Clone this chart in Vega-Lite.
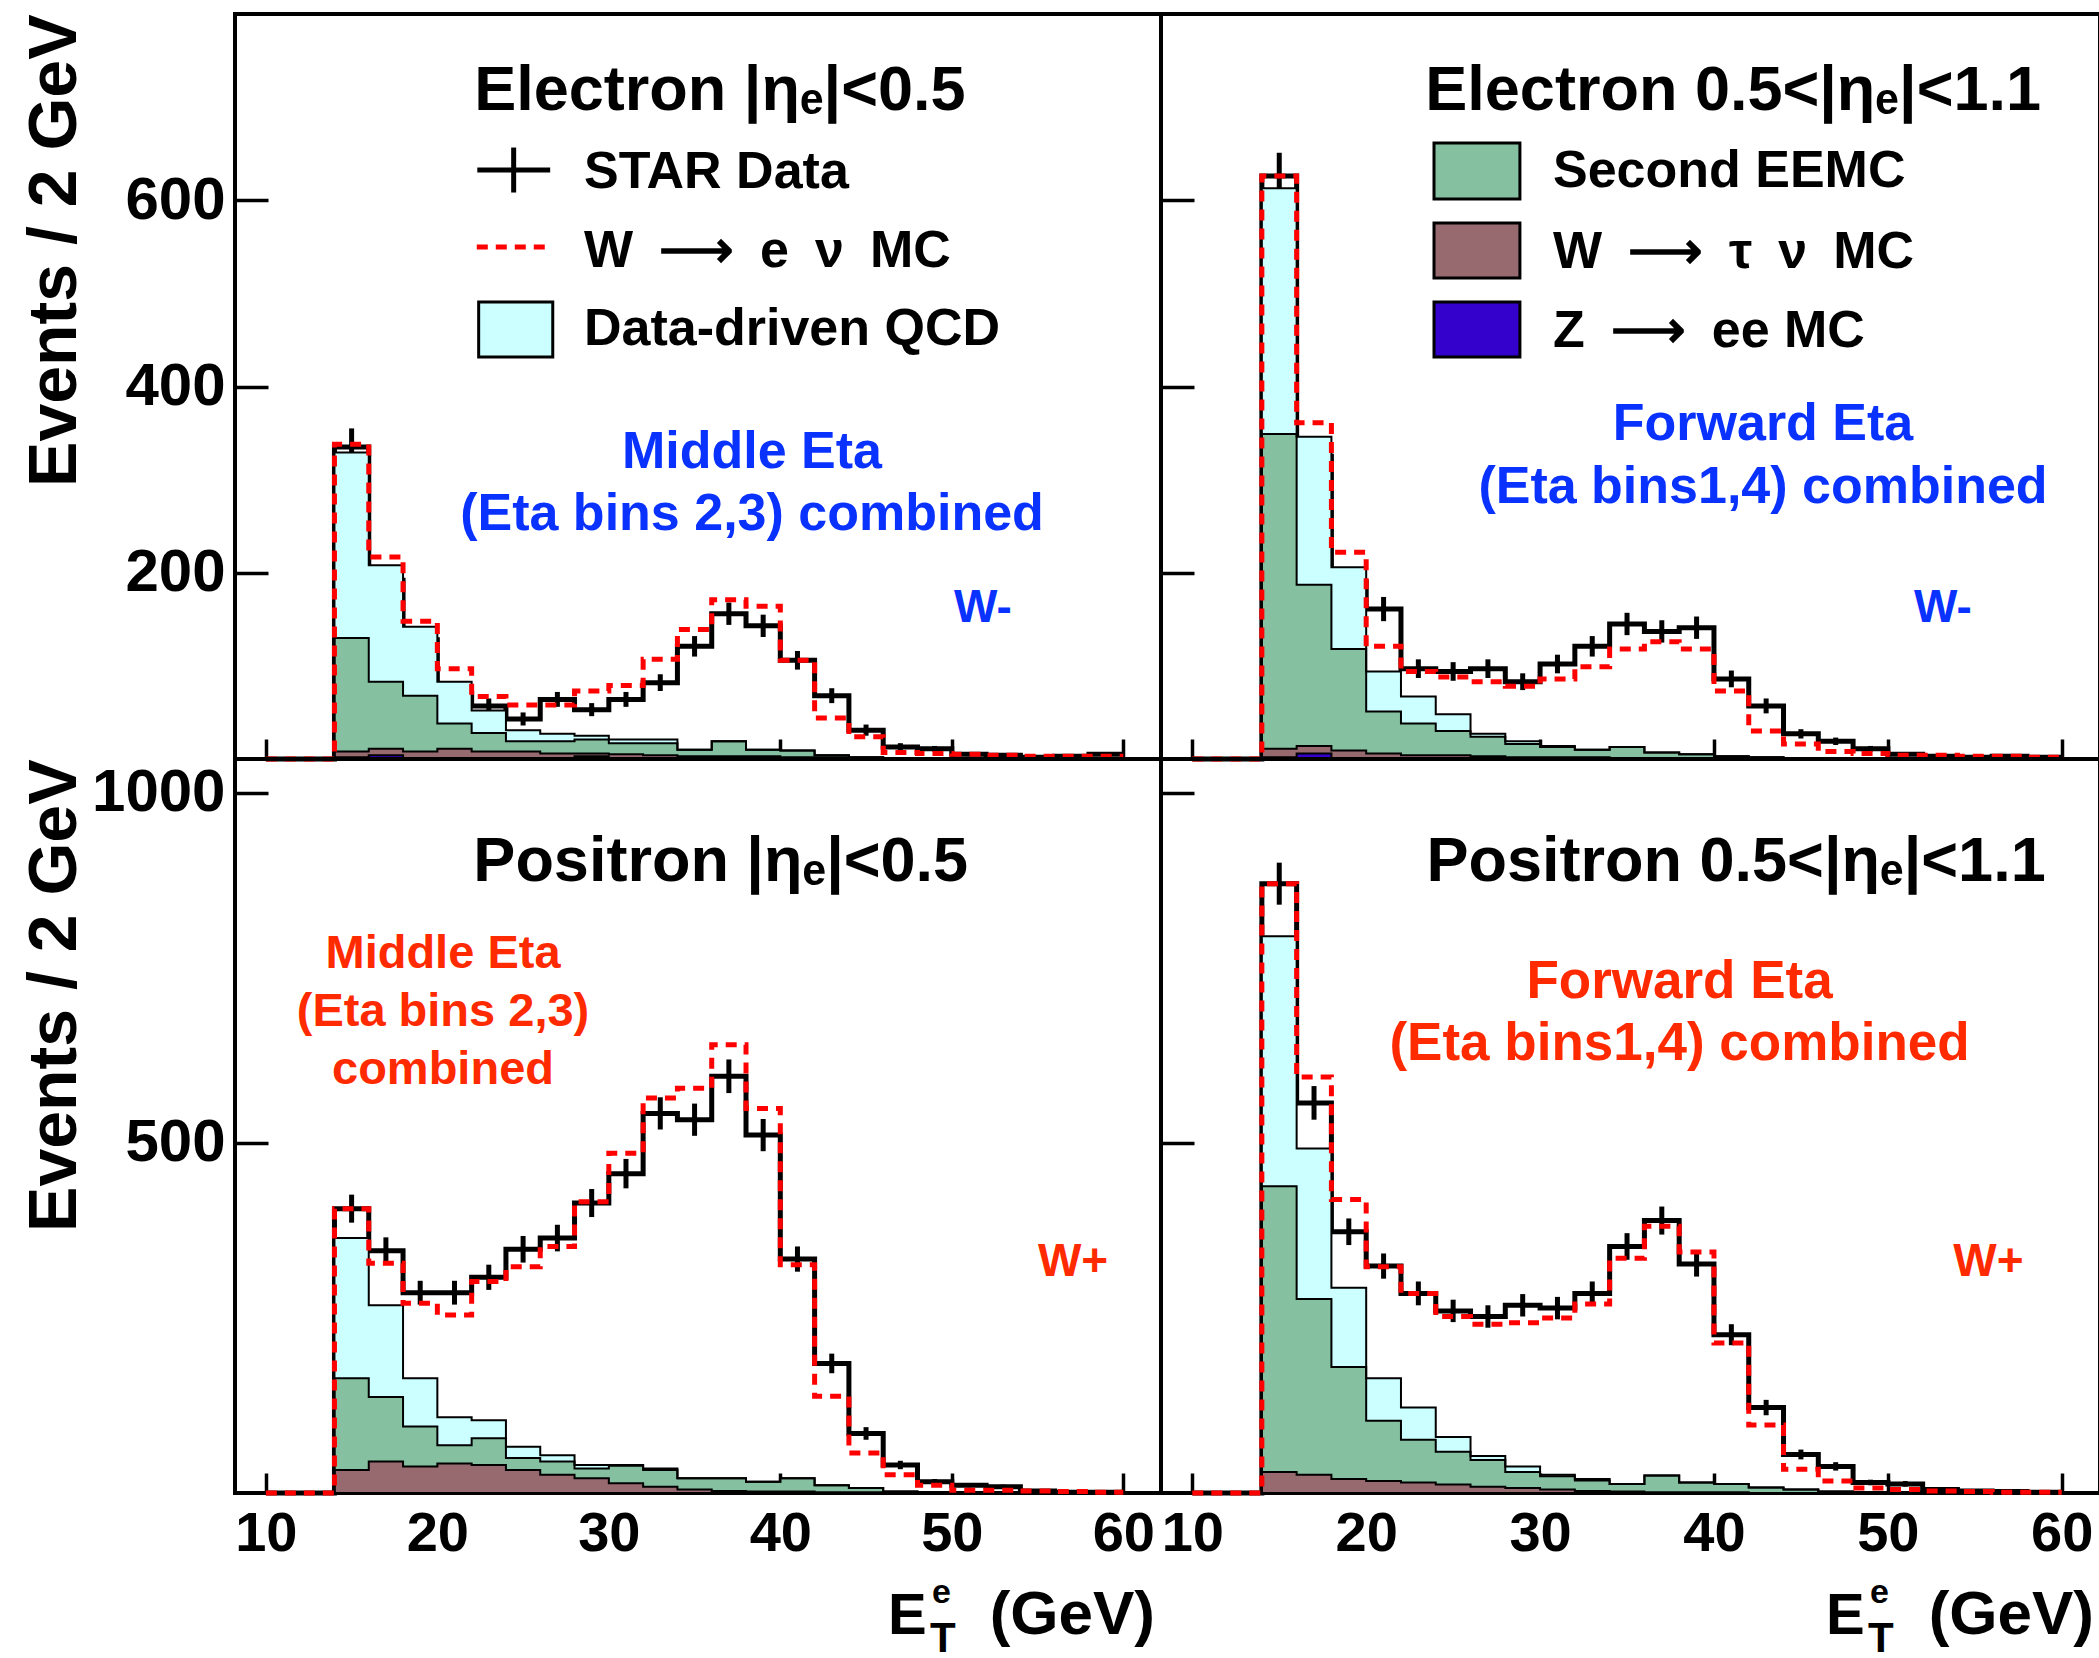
{
  "$schema": "https://vega.github.io/schema/vega-lite/v6.json",
  "padding": {"left": 18, "top": 12, "right": 2, "bottom": 0},
  "background": "white",
  "config": {
    "font": "Liberation Sans",
    "view": {"stroke": "black", "strokeWidth": 4},
    "axis": {"domain": false, "grid": false, "tickColor": "black", "tickWidth": 3.5, "labelFont": "Liberation Sans", "labelFontWeight": "bold", "labelColor": "black", "labelFlush": false, "labelOverlap": false, "titleFont": "Liberation Sans", "titleFontWeight": "bold", "titleColor": "black", "format": "d"},
    "axisX": {"tickSize": -20, "labelPadding": 33, "labelFontSize": 56},
    "axisY": {"tickSize": -33, "labelPadding": 43, "labelFontSize": 60, "titleFontSize": 68, "titleAnchor": "end", "titleX": -146},
    "text": {"font": "Liberation Sans", "fontWeight": "bold"}
  },
  "datasets": {
    "bins": [
      {"p":"TL","lo":10,"hi":12,"data":0,"err":0,"mc":0,"qcd":0,"second":0,"tau":0,"zee":0},
      {"p":"TL","lo":12,"hi":14,"data":0,"err":0,"mc":0,"qcd":0,"second":0,"tau":0,"zee":0},
      {"p":"TL","lo":14,"hi":16,"data":335,"err":20,"mc":338,"qcd":199,"second":122,"tau":6,"zee":2},
      {"p":"TL","lo":16,"hi":18,"data":192,"err":14,"mc":217,"qcd":125,"second":72,"tau":7,"zee":4},
      {"p":"TL","lo":18,"hi":20,"data":128,"err":11,"mc":148,"qcd":74,"second":60,"tau":7,"zee":1},
      {"p":"TL","lo":20,"hi":22,"data":71,"err":8,"mc":97,"qcd":45,"second":27,"tau":10,"zee":1},
      {"p":"TL","lo":22,"hi":24,"data":57,"err":8,"mc":67,"qcd":24,"second":20,"tau":7,"zee":1},
      {"p":"TL","lo":24,"hi":26,"data":43,"err":7,"mc":58,"qcd":12,"second":11,"tau":7,"zee":1},
      {"p":"TL","lo":26,"hi":28,"data":64,"err":8,"mc":58,"qcd":8,"second":13,"tau":6,"zee":0},
      {"p":"TL","lo":28,"hi":30,"data":53,"err":7,"mc":73,"qcd":4,"second":15,"tau":3,"zee":3},
      {"p":"TL","lo":30,"hi":32,"data":64,"err":8,"mc":79,"qcd":4,"second":12,"tau":5,"zee":0},
      {"p":"TL","lo":32,"hi":34,"data":82,"err":9,"mc":107,"qcd":4,"second":13,"tau":4,"zee":0},
      {"p":"TL","lo":34,"hi":36,"data":121,"err":11,"mc":139,"qcd":0,"second":7,"tau":3,"zee":0},
      {"p":"TL","lo":36,"hi":38,"data":156,"err":12,"mc":171,"qcd":0,"second":16,"tau":3,"zee":0},
      {"p":"TL","lo":38,"hi":40,"data":143,"err":12,"mc":164,"qcd":0,"second":7,"tau":3,"zee":0},
      {"p":"TL","lo":40,"hi":42,"data":106,"err":10,"mc":106,"qcd":0,"second":7,"tau":2,"zee":0},
      {"p":"TL","lo":42,"hi":44,"data":68,"err":8,"mc":44,"qcd":0,"second":2,"tau":2,"zee":0},
      {"p":"TL","lo":44,"hi":46,"data":31,"err":6,"mc":24,"qcd":0,"second":1,"tau":1,"zee":0},
      {"p":"TL","lo":46,"hi":48,"data":13,"err":4,"mc":7,"qcd":0,"second":1,"tau":0,"zee":0},
      {"p":"TL","lo":48,"hi":50,"data":11,"err":3,"mc":6,"qcd":0,"second":0,"tau":0,"zee":0},
      {"p":"TL","lo":50,"hi":52,"data":5,"err":2,"mc":5,"qcd":0,"second":0,"tau":0,"zee":0},
      {"p":"TL","lo":52,"hi":54,"data":4,"err":2,"mc":4,"qcd":0,"second":0,"tau":0,"zee":0},
      {"p":"TL","lo":54,"hi":56,"data":2,"err":1,"mc":3,"qcd":0,"second":0,"tau":0,"zee":0},
      {"p":"TL","lo":56,"hi":58,"data":3,"err":2,"mc":3,"qcd":0,"second":0,"tau":0,"zee":0},
      {"p":"TL","lo":58,"hi":60,"data":5,"err":2,"mc":3,"qcd":0,"second":0,"tau":0,"zee":0},

      {"p":"TR","lo":10,"hi":12,"data":0,"err":0,"mc":0,"qcd":0,"second":0,"tau":0,"zee":0},
      {"p":"TR","lo":12,"hi":14,"data":0,"err":0,"mc":0,"qcd":0,"second":0,"tau":0,"zee":0},
      {"p":"TR","lo":14,"hi":16,"data":626,"err":25,"mc":626,"qcd":264,"second":338,"tau":9,"zee":2},
      {"p":"TR","lo":16,"hi":18,"data":325,"err":18,"mc":361,"qcd":159,"second":173,"tau":8,"zee":6},
      {"p":"TR","lo":18,"hi":20,"data":190,"err":14,"mc":222,"qcd":88,"second":109,"tau":8,"zee":1},
      {"p":"TR","lo":20,"hi":22,"data":161,"err":13,"mc":121,"qcd":43,"second":45,"tau":6,"zee":0},
      {"p":"TR","lo":22,"hi":24,"data":97,"err":10,"mc":94,"qcd":29,"second":34,"tau":4,"zee":0},
      {"p":"TR","lo":24,"hi":26,"data":94,"err":10,"mc":88,"qcd":18,"second":26,"tau":4,"zee":0},
      {"p":"TR","lo":26,"hi":28,"data":97,"err":10,"mc":83,"qcd":3,"second":21,"tau":3,"zee":0},
      {"p":"TR","lo":28,"hi":30,"data":83,"err":9,"mc":78,"qcd":3,"second":14,"tau":2,"zee":0},
      {"p":"TR","lo":30,"hi":32,"data":102,"err":10,"mc":86,"qcd":1,"second":11,"tau":2,"zee":0},
      {"p":"TR","lo":32,"hi":34,"data":121,"err":11,"mc":99,"qcd":0,"second":8,"tau":2,"zee":0},
      {"p":"TR","lo":34,"hi":36,"data":145,"err":12,"mc":118,"qcd":0,"second":12,"tau":1,"zee":0},
      {"p":"TR","lo":36,"hi":38,"data":137,"err":12,"mc":126,"qcd":0,"second":6,"tau":1,"zee":0},
      {"p":"TR","lo":38,"hi":40,"data":141,"err":12,"mc":118,"qcd":0,"second":4,"tau":1,"zee":0},
      {"p":"TR","lo":40,"hi":42,"data":86,"err":9,"mc":73,"qcd":0,"second":3,"tau":0,"zee":0},
      {"p":"TR","lo":42,"hi":44,"data":57,"err":8,"mc":30,"qcd":0,"second":2,"tau":0,"zee":0},
      {"p":"TR","lo":44,"hi":46,"data":27,"err":5,"mc":16,"qcd":0,"second":1,"tau":0,"zee":0},
      {"p":"TR","lo":46,"hi":48,"data":19,"err":4,"mc":8,"qcd":0,"second":0,"tau":0,"zee":0},
      {"p":"TR","lo":48,"hi":50,"data":11,"err":3,"mc":6,"qcd":0,"second":0,"tau":0,"zee":0},
      {"p":"TR","lo":50,"hi":52,"data":5,"err":2,"mc":4,"qcd":0,"second":0,"tau":0,"zee":0},
      {"p":"TR","lo":52,"hi":54,"data":3,"err":2,"mc":4,"qcd":0,"second":0,"tau":0,"zee":0},
      {"p":"TR","lo":54,"hi":56,"data":2,"err":1,"mc":3,"qcd":0,"second":0,"tau":0,"zee":0},
      {"p":"TR","lo":56,"hi":58,"data":3,"err":2,"mc":3,"qcd":0,"second":0,"tau":0,"zee":0},
      {"p":"TR","lo":58,"hi":60,"data":2,"err":1,"mc":2,"qcd":0,"second":0,"tau":0,"zee":0},

      {"p":"BL","lo":10,"hi":12,"data":0,"err":0,"mc":0,"qcd":0,"second":0,"tau":0,"zee":0},
      {"p":"BL","lo":12,"hi":14,"data":0,"err":0,"mc":0,"qcd":0,"second":0,"tau":0,"zee":0},
      {"p":"BL","lo":14,"hi":16,"data":406,"err":20,"mc":406,"qcd":200,"second":131,"tau":33,"zee":0},
      {"p":"BL","lo":16,"hi":18,"data":346,"err":19,"mc":328,"qcd":131,"second":92,"tau":45,"zee":0},
      {"p":"BL","lo":18,"hi":20,"data":286,"err":17,"mc":271,"qcd":69,"second":57,"tau":38,"zee":0},
      {"p":"BL","lo":20,"hi":22,"data":286,"err":17,"mc":254,"qcd":40,"second":26,"tau":42,"zee":0},
      {"p":"BL","lo":22,"hi":24,"data":308,"err":18,"mc":302,"qcd":26,"second":38,"tau":40,"zee":0},
      {"p":"BL","lo":24,"hi":26,"data":348,"err":19,"mc":323,"qcd":16,"second":17,"tau":33,"zee":0},
      {"p":"BL","lo":26,"hi":28,"data":364,"err":19,"mc":352,"qcd":9,"second":19,"tau":26,"zee":0},
      {"p":"BL","lo":28,"hi":30,"data":414,"err":20,"mc":416,"qcd":5,"second":14,"tau":21,"zee":0},
      {"p":"BL","lo":30,"hi":32,"data":456,"err":21,"mc":485,"qcd":1,"second":25,"tau":14,"zee":0},
      {"p":"BL","lo":32,"hi":34,"data":542,"err":23,"mc":564,"qcd":2,"second":24,"tau":9,"zee":0},
      {"p":"BL","lo":34,"hi":36,"data":533,"err":23,"mc":578,"qcd":0,"second":16,"tau":5,"zee":0},
      {"p":"BL","lo":36,"hi":38,"data":595,"err":24,"mc":640,"qcd":0,"second":18,"tau":3,"zee":0},
      {"p":"BL","lo":38,"hi":40,"data":511,"err":23,"mc":549,"qcd":0,"second":14,"tau":2,"zee":0},
      {"p":"BL","lo":40,"hi":42,"data":334,"err":18,"mc":326,"qcd":0,"second":19,"tau":2,"zee":0},
      {"p":"BL","lo":42,"hi":44,"data":185,"err":14,"mc":138,"qcd":0,"second":10,"tau":1,"zee":0},
      {"p":"BL","lo":44,"hi":46,"data":85,"err":9,"mc":57,"qcd":0,"second":6,"tau":1,"zee":0},
      {"p":"BL","lo":46,"hi":48,"data":40,"err":6,"mc":26,"qcd":0,"second":2,"tau":0,"zee":0},
      {"p":"BL","lo":48,"hi":50,"data":16,"err":4,"mc":11,"qcd":0,"second":1,"tau":0,"zee":0},
      {"p":"BL","lo":50,"hi":52,"data":11,"err":3,"mc":4,"qcd":0,"second":0,"tau":0,"zee":0},
      {"p":"BL","lo":52,"hi":54,"data":9,"err":3,"mc":4,"qcd":0,"second":0,"tau":0,"zee":0},
      {"p":"BL","lo":54,"hi":56,"data":3,"err":2,"mc":3,"qcd":0,"second":0,"tau":0,"zee":0},
      {"p":"BL","lo":56,"hi":58,"data":1,"err":1,"mc":2,"qcd":0,"second":0,"tau":0,"zee":0},
      {"p":"BL","lo":58,"hi":60,"data":1,"err":1,"mc":1,"qcd":0,"second":0,"tau":0,"zee":0},

      {"p":"BR","lo":10,"hi":12,"data":0,"err":0,"mc":0,"qcd":0,"second":0,"tau":0,"zee":0},
      {"p":"BR","lo":12,"hi":14,"data":0,"err":0,"mc":0,"qcd":0,"second":0,"tau":0,"zee":0},
      {"p":"BR","lo":14,"hi":16,"data":870,"err":30,"mc":870,"qcd":357,"second":408,"tau":30,"zee":0},
      {"p":"BR","lo":16,"hi":18,"data":557,"err":24,"mc":594,"qcd":215,"second":251,"tau":26,"zee":0},
      {"p":"BR","lo":18,"hi":20,"data":373,"err":19,"mc":419,"qcd":113,"second":160,"tau":20,"zee":0},
      {"p":"BR","lo":20,"hi":22,"data":324,"err":18,"mc":323,"qcd":61,"second":86,"tau":17,"zee":0},
      {"p":"BR","lo":22,"hi":24,"data":285,"err":17,"mc":285,"qcd":46,"second":61,"tau":15,"zee":0},
      {"p":"BR","lo":24,"hi":26,"data":260,"err":16,"mc":252,"qcd":21,"second":47,"tau":12,"zee":0},
      {"p":"BR","lo":26,"hi":28,"data":252,"err":16,"mc":241,"qcd":6,"second":38,"tau":9,"zee":0},
      {"p":"BR","lo":28,"hi":30,"data":268,"err":16,"mc":243,"qcd":8,"second":23,"tau":7,"zee":0},
      {"p":"BR","lo":30,"hi":32,"data":264,"err":16,"mc":250,"qcd":2,"second":19,"tau":5,"zee":0},
      {"p":"BR","lo":32,"hi":34,"data":285,"err":17,"mc":270,"qcd":2,"second":15,"tau":3,"zee":0},
      {"p":"BR","lo":34,"hi":36,"data":352,"err":19,"mc":335,"qcd":0,"second":11,"tau":2,"zee":0},
      {"p":"BR","lo":36,"hi":38,"data":389,"err":20,"mc":381,"qcd":0,"second":24,"tau":1,"zee":0},
      {"p":"BR","lo":38,"hi":40,"data":327,"err":18,"mc":344,"qcd":0,"second":14,"tau":1,"zee":0},
      {"p":"BR","lo":40,"hi":42,"data":226,"err":15,"mc":214,"qcd":0,"second":12,"tau":1,"zee":0},
      {"p":"BR","lo":42,"hi":44,"data":122,"err":11,"mc":97,"qcd":0,"second":8,"tau":0,"zee":0},
      {"p":"BR","lo":44,"hi":46,"data":55,"err":7,"mc":34,"qcd":0,"second":5,"tau":0,"zee":0},
      {"p":"BR","lo":46,"hi":48,"data":38,"err":6,"mc":17,"qcd":0,"second":2,"tau":0,"zee":0},
      {"p":"BR","lo":48,"hi":50,"data":15,"err":4,"mc":7,"qcd":0,"second":1,"tau":0,"zee":0},
      {"p":"BR","lo":50,"hi":52,"data":13,"err":4,"mc":5,"qcd":0,"second":0,"tau":0,"zee":0},
      {"p":"BR","lo":52,"hi":54,"data":5,"err":2,"mc":3,"qcd":0,"second":0,"tau":0,"zee":0},
      {"p":"BR","lo":54,"hi":56,"data":3,"err":2,"mc":2,"qcd":0,"second":0,"tau":0,"zee":0},
      {"p":"BR","lo":56,"hi":58,"data":2,"err":1,"mc":1,"qcd":0,"second":0,"tau":0,"zee":0},
      {"p":"BR","lo":58,"hi":60,"data":1,"err":1,"mc":1,"qcd":0,"second":0,"tau":0,"zee":0}
    ]
  },
  "concat": [
    {
      "width": 926, "height": 745,
      "layer": [
        {
          "data": {"name": "bins"},
          "transform": [{"filter": "datum.p === 'TL'"}, {"fold": ["lo", "hi"], "as": ["edge", "x"]}],
          "layer": [
            {"mark": {"type": "line", "stroke": "black", "strokeWidth": 5},
             "encoding": {
               "x": {"field": "x", "type": "quantitative", "title": null, "scale": {"domain": [8.2, 62.2], "nice": false, "zero": false}, "axis": {"values": [10, 20, 30, 40, 50, 60], "labels": false}},
               "y": {"field": "data", "type": "quantitative", "title": "Events / 2 GeV", "scale": {"domain": [0, 800], "nice": false}, "axis": {"values": [200, 400, 600]}},
               "order": [{"field": "x", "type": "quantitative"}, {"field": "edge", "type": "ordinal"}]}},
            {"transform": [{"filter": "datum.edge === 'lo'"}],
             "mark": {"type": "errorbar", "ticks": false, "thickness": 5, "color": "black", "rule": {"xOffset": 17.15}},
             "encoding": {"x": {"field": "lo", "type": "quantitative", "title": null}, "y": {"field": "data", "type": "quantitative", "title": "Events / 2 GeV"}, "yError": {"field": "err"}}},
            {"transform": [{"fold": ["zee", "tau", "second", "qcd"], "as": ["comp", "n"]}, {"stack": "n", "groupby": ["x", "edge"], "sort": [{"field": "comp", "order": "descending"}], "as": ["y0", "y1"]}],
             "layer": [
               {"mark": {"type": "area", "opacity": 1},
                "encoding": {
                  "x": {"field": "x", "type": "quantitative", "title": null},
                  "y": {"field": "y1", "type": "quantitative", "stack": null, "title": "Events / 2 GeV"},
                  "y2": {"field": "y0"},
                  "color": {"field": "comp", "type": "nominal", "legend": null,
                    "scale": {"domain": ["qcd", "second", "tau", "zee"], "range": ["#ccffff", "#85c1a1", "#976a70", "#3300cc"]}},
                  "order": [{"field": "x", "type": "quantitative"}, {"field": "edge", "type": "ordinal"}]}},
               {"mark": {"type": "line", "stroke": "black", "strokeWidth": 2},
                "encoding": {
                  "x": {"field": "x", "type": "quantitative", "title": null},
                  "y": {"field": "y1", "type": "quantitative", "title": "Events / 2 GeV"},
                  "detail": {"field": "comp"},
                  "order": [{"field": "x", "type": "quantitative"}, {"field": "edge", "type": "ordinal"}]}}
             ]},
            {"mark": {"type": "line", "stroke": "#ff0000", "strokeWidth": 5, "strokeDash": [11, 8]},
             "encoding": {
               "x": {"field": "x", "type": "quantitative", "title": null},
               "y": {"field": "mc", "type": "quantitative", "title": "Events / 2 GeV"},
               "order": [{"field": "x", "type": "quantitative"}, {"field": "edge", "type": "ordinal"}]}}
          ]
        },
        {"data": {"values": [{}]},
         "mark": {"type": "text", "text": "Electron |\u03b7\u2091|<0.5", "align": "left", "baseline": "alphabetic", "fontSize": 63, "fill": "black"},
         "encoding": {"x": {"datum": 22.15, "type": "quantitative"}, "y": {"datum": 697, "type": "quantitative"}}},
        {"data": {"values": [{}]},
         "mark": {"type": "rule", "stroke": "black", "strokeWidth": 5},
         "encoding": {"x": {"datum": 22.33, "type": "quantitative"}, "x2": {"datum": 26.58}, "y": {"datum": 632.4, "type": "quantitative"}}},
        {"data": {"values": [{}]},
         "mark": {"type": "rule", "stroke": "black", "strokeWidth": 5},
         "encoding": {"x": {"datum": 24.45, "type": "quantitative"}, "y": {"datum": 656.6, "type": "quantitative"}, "y2": {"datum": 608.3}}},
        {"data": {"values": [{}]},
         "mark": {"type": "rule", "stroke": "#ff0000", "strokeWidth": 5, "strokeDash": [11, 8]},
         "encoding": {"x": {"datum": 22.30, "type": "quantitative"}, "x2": {"datum": 26.55}, "y": {"datum": 549.8, "type": "quantitative"}}},
        {"data": {"values": [{}]},
         "mark": {"type": "rect", "fill": "#ccffff", "stroke": "black", "strokeWidth": 3},
         "encoding": {"x": {"datum": 22.41, "type": "quantitative"}, "x2": {"datum": 26.73}, "y": {"datum": 490.7, "type": "quantitative"}, "y2": {"datum": 431.6}}},
        {"data": {"values": [{}]},
         "mark": {"type": "text", "text": "STAR Data", "align": "left", "baseline": "alphabetic", "fontSize": 52, "fill": "black"},
         "encoding": {"x": {"datum": 28.55, "type": "quantitative"}, "y": {"datum": 612.8, "type": "quantitative"}}},
        {"data": {"values": [{}]},
         "mark": {"type": "text", "text": "W\u2002\u27f6\u2002e\u2002\u03bd\u2002MC", "align": "left", "baseline": "alphabetic", "fontSize": 52, "fill": "black"},
         "encoding": {"x": {"datum": 28.55, "type": "quantitative"}, "y": {"datum": 528.6, "type": "quantitative"}}},
        {"data": {"values": [{}]},
         "mark": {"type": "text", "text": "Data-driven QCD", "align": "left", "baseline": "alphabetic", "fontSize": 52, "fill": "black"},
         "encoding": {"x": {"datum": 28.55, "type": "quantitative"}, "y": {"datum": 444.5, "type": "quantitative"}}},
        {"data": {"values": [{}]},
         "mark": {"type": "text", "text": ["Middle Eta", "(Eta bins 2,3) combined"], "align": "center", "baseline": "alphabetic", "fontSize": 52, "lineHeight": 62, "fill": "#0a32ff"},
         "encoding": {"x": {"datum": 38.35, "type": "quantitative"}, "y": {"datum": 312.5, "type": "quantitative"}}},
        {"data": {"values": [{}]},
         "mark": {"type": "text", "text": "W-", "align": "center", "baseline": "alphabetic", "fontSize": 46, "fill": "#0a32ff"},
         "encoding": {"x": {"datum": 51.82, "type": "quantitative"}, "y": {"datum": 147, "type": "quantitative"}}}
      ]
    },
    {
      "width": 939, "height": 745,
      "layer": [
        {
          "data": {"name": "bins"},
          "transform": [{"filter": "datum.p === 'TR'"}, {"fold": ["lo", "hi"], "as": ["edge", "x"]}],
          "layer": [
            {"mark": {"type": "line", "stroke": "black", "strokeWidth": 5},
             "encoding": {
               "x": {"field": "x", "type": "quantitative", "title": null, "scale": {"domain": [8.2, 62.2], "nice": false, "zero": false}, "axis": {"values": [10, 20, 30, 40, 50, 60], "labels": false}},
               "y": {"field": "data", "type": "quantitative", "title": null, "scale": {"domain": [0, 800], "nice": false}, "axis": {"values": [200, 400, 600], "labels": false}},
               "order": [{"field": "x", "type": "quantitative"}, {"field": "edge", "type": "ordinal"}]}},
            {"transform": [{"filter": "datum.edge === 'lo'"}],
             "mark": {"type": "errorbar", "ticks": false, "thickness": 5, "color": "black", "rule": {"xOffset": 17.39}},
             "encoding": {"x": {"field": "lo", "type": "quantitative", "title": null}, "y": {"field": "data", "type": "quantitative", "title": null}, "yError": {"field": "err"}}},
            {"transform": [{"fold": ["zee", "tau", "second", "qcd"], "as": ["comp", "n"]}, {"stack": "n", "groupby": ["x", "edge"], "sort": [{"field": "comp", "order": "descending"}], "as": ["y0", "y1"]}],
             "layer": [
               {"mark": {"type": "area", "opacity": 1},
                "encoding": {
                  "x": {"field": "x", "type": "quantitative", "title": null},
                  "y": {"field": "y1", "type": "quantitative", "stack": null, "title": null},
                  "y2": {"field": "y0"},
                  "color": {"field": "comp", "type": "nominal", "legend": null,
                    "scale": {"domain": ["qcd", "second", "tau", "zee"], "range": ["#ccffff", "#85c1a1", "#976a70", "#3300cc"]}},
                  "order": [{"field": "x", "type": "quantitative"}, {"field": "edge", "type": "ordinal"}]}},
               {"mark": {"type": "line", "stroke": "black", "strokeWidth": 2},
                "encoding": {
                  "x": {"field": "x", "type": "quantitative", "title": null},
                  "y": {"field": "y1", "type": "quantitative", "title": null},
                  "detail": {"field": "comp"},
                  "order": [{"field": "x", "type": "quantitative"}, {"field": "edge", "type": "ordinal"}]}}
             ]},
            {"mark": {"type": "line", "stroke": "#ff0000", "strokeWidth": 5, "strokeDash": [11, 8]},
             "encoding": {
               "x": {"field": "x", "type": "quantitative", "title": null},
               "y": {"field": "mc", "type": "quantitative", "title": null},
               "order": [{"field": "x", "type": "quantitative"}, {"field": "edge", "type": "ordinal"}]}}
          ]
        },
        {"data": {"values": [{}]},
         "mark": {"type": "text", "text": "Electron 0.5<|\u03b7\u2091|<1.1", "align": "left", "baseline": "alphabetic", "fontSize": 63, "fill": "black"},
         "encoding": {"x": {"datum": 23.40, "type": "quantitative"}, "y": {"datum": 697, "type": "quantitative"}}},
        {"data": {"values": [{}]},
         "mark": {"type": "rect", "fill": "#85c1a1", "stroke": "black", "strokeWidth": 3},
         "encoding": {"x": {"datum": 23.90, "type": "quantitative"}, "x2": {"datum": 28.84}, "y": {"datum": 661.6, "type": "quantitative"}, "y2": {"datum": 601.3}}},
        {"data": {"values": [{}]},
         "mark": {"type": "rect", "fill": "#976a70", "stroke": "black", "strokeWidth": 3},
         "encoding": {"x": {"datum": 23.90, "type": "quantitative"}, "x2": {"datum": 28.84}, "y": {"datum": 575.5, "type": "quantitative"}, "y2": {"datum": 516.5}}},
        {"data": {"values": [{}]},
         "mark": {"type": "rect", "fill": "#3300cc", "stroke": "black", "strokeWidth": 3},
         "encoding": {"x": {"datum": 23.90, "type": "quantitative"}, "x2": {"datum": 28.84}, "y": {"datum": 490.7, "type": "quantitative"}, "y2": {"datum": 431.6}}},
        {"data": {"values": [{}]},
         "mark": {"type": "text", "text": "Second EEMC", "align": "left", "baseline": "alphabetic", "fontSize": 52, "fill": "black"},
         "encoding": {"x": {"datum": 30.74, "type": "quantitative"}, "y": {"datum": 614.2, "type": "quantitative"}}},
        {"data": {"values": [{}]},
         "mark": {"type": "text", "text": "W\u2002\u27f6\u2002\u03c4\u2002\u03bd\u2002MC", "align": "left", "baseline": "alphabetic", "fontSize": 52, "fill": "black"},
         "encoding": {"x": {"datum": 30.74, "type": "quantitative"}, "y": {"datum": 526.9, "type": "quantitative"}}},
        {"data": {"values": [{}]},
         "mark": {"type": "text", "text": "Z\u2002\u27f6\u2002ee MC", "align": "left", "baseline": "alphabetic", "fontSize": 52, "fill": "black"},
         "encoding": {"x": {"datum": 30.74, "type": "quantitative"}, "y": {"datum": 442.7, "type": "quantitative"}}},
        {"data": {"values": [{}]},
         "mark": {"type": "text", "text": ["Forward Eta", "(Eta bins1,4) combined"], "align": "center", "baseline": "alphabetic", "fontSize": 52, "lineHeight": 63, "fill": "#0a32ff"},
         "encoding": {"x": {"datum": 42.82, "type": "quantitative"}, "y": {"datum": 342.5, "type": "quantitative"}}},
        {"data": {"values": [{}]},
         "mark": {"type": "text", "text": "W-", "align": "center", "baseline": "alphabetic", "fontSize": 46, "fill": "#0a32ff"},
         "encoding": {"x": {"datum": 53.17, "type": "quantitative"}, "y": {"datum": 147, "type": "quantitative"}}}
      ]
    },
    {
      "width": 926, "height": 734,
      "layer": [
        {
          "data": {"name": "bins"},
          "transform": [{"filter": "datum.p === 'BL'"}, {"fold": ["lo", "hi"], "as": ["edge", "x"]}],
          "layer": [
            {"mark": {"type": "line", "stroke": "black", "strokeWidth": 5},
             "encoding": {
               "x": {"field": "x", "type": "quantitative", "title": null, "scale": {"domain": [8.2, 62.2], "nice": false, "zero": false}, "axis": {"values": [10, 20, 30, 40, 50, 60]}},
               "y": {"field": "data", "type": "quantitative", "title": "Events / 2 GeV", "scale": {"domain": [0, 1048], "nice": false}, "axis": {"values": [500, 1000]}},
               "order": [{"field": "x", "type": "quantitative"}, {"field": "edge", "type": "ordinal"}]}},
            {"transform": [{"filter": "datum.edge === 'lo'"}],
             "mark": {"type": "errorbar", "ticks": false, "thickness": 5, "color": "black", "rule": {"xOffset": 17.15}},
             "encoding": {"x": {"field": "lo", "type": "quantitative", "title": null}, "y": {"field": "data", "type": "quantitative", "title": "Events / 2 GeV"}, "yError": {"field": "err"}}},
            {"transform": [{"fold": ["zee", "tau", "second", "qcd"], "as": ["comp", "n"]}, {"stack": "n", "groupby": ["x", "edge"], "sort": [{"field": "comp", "order": "descending"}], "as": ["y0", "y1"]}],
             "layer": [
               {"mark": {"type": "area", "opacity": 1},
                "encoding": {
                  "x": {"field": "x", "type": "quantitative", "title": null},
                  "y": {"field": "y1", "type": "quantitative", "stack": null, "title": "Events / 2 GeV"},
                  "y2": {"field": "y0"},
                  "color": {"field": "comp", "type": "nominal", "legend": null,
                    "scale": {"domain": ["qcd", "second", "tau", "zee"], "range": ["#ccffff", "#85c1a1", "#976a70", "#3300cc"]}},
                  "order": [{"field": "x", "type": "quantitative"}, {"field": "edge", "type": "ordinal"}]}},
               {"mark": {"type": "line", "stroke": "black", "strokeWidth": 2},
                "encoding": {
                  "x": {"field": "x", "type": "quantitative", "title": null},
                  "y": {"field": "y1", "type": "quantitative", "title": "Events / 2 GeV"},
                  "detail": {"field": "comp"},
                  "order": [{"field": "x", "type": "quantitative"}, {"field": "edge", "type": "ordinal"}]}}
             ]},
            {"mark": {"type": "line", "stroke": "#ff0000", "strokeWidth": 5, "strokeDash": [11, 8]},
             "encoding": {
               "x": {"field": "x", "type": "quantitative", "title": null},
               "y": {"field": "mc", "type": "quantitative", "title": "Events / 2 GeV"},
               "order": [{"field": "x", "type": "quantitative"}, {"field": "edge", "type": "ordinal"}]}}
          ]
        },
        {"data": {"values": [{}]},
         "mark": {"type": "text", "text": "Positron |\u03b7\u2091|<0.5", "align": "left", "baseline": "alphabetic", "fontSize": 63, "fill": "black"},
         "encoding": {"x": {"datum": 22.10, "type": "quantitative"}, "y": {"datum": 874.5, "type": "quantitative"}}},
        {"data": {"values": [{}]},
         "mark": {"type": "text", "text": ["Middle Eta", "(Eta bins 2,3)", "combined"], "align": "center", "baseline": "alphabetic", "fontSize": 47, "lineHeight": 58, "fill": "#ff2a00"},
         "encoding": {"x": {"datum": 20.33, "type": "quantitative"}, "y": {"datum": 749.6, "type": "quantitative"}}},
        {"data": {"values": [{}]},
         "mark": {"type": "text", "text": "W+", "align": "center", "baseline": "alphabetic", "fontSize": 46, "fill": "#ff2a00"},
         "encoding": {"x": {"datum": 57.07, "type": "quantitative"}, "y": {"datum": 310.2, "type": "quantitative"}}},
        {"data": {"values": [{}]},
         "mark": {"type": "text", "text": "(GeV)", "align": "right", "baseline": "alphabetic", "fontSize": 62, "fill": "black", "dx": -6, "dy": 141},
         "encoding": {"x": {"datum": 62.2, "type": "quantitative"}, "y": {"datum": 0, "type": "quantitative"}}},
        {"data": {"values": [{}]},
         "mark": {"type": "text", "text": "E", "align": "left", "baseline": "alphabetic", "fontSize": 58, "fill": "black", "dx": -273, "dy": 141},
         "encoding": {"x": {"datum": 62.2, "type": "quantitative"}, "y": {"datum": 0, "type": "quantitative"}}},
        {"data": {"values": [{}]},
         "mark": {"type": "text", "text": "e", "align": "left", "baseline": "alphabetic", "fontSize": 34, "fill": "black", "dx": -229, "dy": 110},
         "encoding": {"x": {"datum": 62.2, "type": "quantitative"}, "y": {"datum": 0, "type": "quantitative"}}},
        {"data": {"values": [{}]},
         "mark": {"type": "text", "text": "T", "align": "left", "baseline": "alphabetic", "fontSize": 42, "fill": "black", "dx": -231, "dy": 159},
         "encoding": {"x": {"datum": 62.2, "type": "quantitative"}, "y": {"datum": 0, "type": "quantitative"}}}
      ]
    },
    {
      "width": 939, "height": 734,
      "layer": [
        {
          "data": {"name": "bins"},
          "transform": [{"filter": "datum.p === 'BR'"}, {"fold": ["lo", "hi"], "as": ["edge", "x"]}],
          "layer": [
            {"mark": {"type": "line", "stroke": "black", "strokeWidth": 5},
             "encoding": {
               "x": {"field": "x", "type": "quantitative", "title": null, "scale": {"domain": [8.2, 62.2], "nice": false, "zero": false}, "axis": {"values": [10, 20, 30, 40, 50, 60]}},
               "y": {"field": "data", "type": "quantitative", "title": null, "scale": {"domain": [0, 1048], "nice": false}, "axis": {"values": [500, 1000], "labels": false}},
               "order": [{"field": "x", "type": "quantitative"}, {"field": "edge", "type": "ordinal"}]}},
            {"transform": [{"filter": "datum.edge === 'lo'"}],
             "mark": {"type": "errorbar", "ticks": false, "thickness": 5, "color": "black", "rule": {"xOffset": 17.39}},
             "encoding": {"x": {"field": "lo", "type": "quantitative", "title": null}, "y": {"field": "data", "type": "quantitative", "title": null}, "yError": {"field": "err"}}},
            {"transform": [{"fold": ["zee", "tau", "second", "qcd"], "as": ["comp", "n"]}, {"stack": "n", "groupby": ["x", "edge"], "sort": [{"field": "comp", "order": "descending"}], "as": ["y0", "y1"]}],
             "layer": [
               {"mark": {"type": "area", "opacity": 1},
                "encoding": {
                  "x": {"field": "x", "type": "quantitative", "title": null},
                  "y": {"field": "y1", "type": "quantitative", "stack": null, "title": null},
                  "y2": {"field": "y0"},
                  "color": {"field": "comp", "type": "nominal", "legend": null,
                    "scale": {"domain": ["qcd", "second", "tau", "zee"], "range": ["#ccffff", "#85c1a1", "#976a70", "#3300cc"]}},
                  "order": [{"field": "x", "type": "quantitative"}, {"field": "edge", "type": "ordinal"}]}},
               {"mark": {"type": "line", "stroke": "black", "strokeWidth": 2},
                "encoding": {
                  "x": {"field": "x", "type": "quantitative", "title": null},
                  "y": {"field": "y1", "type": "quantitative", "title": null},
                  "detail": {"field": "comp"},
                  "order": [{"field": "x", "type": "quantitative"}, {"field": "edge", "type": "ordinal"}]}}
             ]},
            {"mark": {"type": "line", "stroke": "#ff0000", "strokeWidth": 5, "strokeDash": [11, 8]},
             "encoding": {
               "x": {"field": "x", "type": "quantitative", "title": null},
               "y": {"field": "mc", "type": "quantitative", "title": null},
               "order": [{"field": "x", "type": "quantitative"}, {"field": "edge", "type": "ordinal"}]}}
          ]
        },
        {"data": {"values": [{}]},
         "mark": {"type": "text", "text": "Positron 0.5<|\u03b7\u2091|<1.1", "align": "left", "baseline": "alphabetic", "fontSize": 63, "fill": "black"},
         "encoding": {"x": {"datum": 23.47, "type": "quantitative"}, "y": {"datum": 874.5, "type": "quantitative"}}},
        {"data": {"values": [{}]},
         "mark": {"type": "text", "text": ["Forward Eta", "(Eta bins1,4) combined"], "align": "center", "baseline": "alphabetic", "fontSize": 53, "lineHeight": 62, "fill": "#ff2a00"},
         "encoding": {"x": {"datum": 38.02, "type": "quantitative"}, "y": {"datum": 707.3, "type": "quantitative"}}},
        {"data": {"values": [{}]},
         "mark": {"type": "text", "text": "W+", "align": "center", "baseline": "alphabetic", "fontSize": 46, "fill": "#ff2a00"},
         "encoding": {"x": {"datum": 55.78, "type": "quantitative"}, "y": {"datum": 310.2, "type": "quantitative"}}},
        {"data": {"values": [{}]},
         "mark": {"type": "text", "text": "(GeV)", "align": "right", "baseline": "alphabetic", "fontSize": 62, "fill": "black", "dx": -6, "dy": 141},
         "encoding": {"x": {"datum": 62.2, "type": "quantitative"}, "y": {"datum": 0, "type": "quantitative"}}},
        {"data": {"values": [{}]},
         "mark": {"type": "text", "text": "E", "align": "left", "baseline": "alphabetic", "fontSize": 58, "fill": "black", "dx": -274, "dy": 141},
         "encoding": {"x": {"datum": 62.2, "type": "quantitative"}, "y": {"datum": 0, "type": "quantitative"}}},
        {"data": {"values": [{}]},
         "mark": {"type": "text", "text": "e", "align": "left", "baseline": "alphabetic", "fontSize": 34, "fill": "black", "dx": -230, "dy": 110},
         "encoding": {"x": {"datum": 62.2, "type": "quantitative"}, "y": {"datum": 0, "type": "quantitative"}}},
        {"data": {"values": [{}]},
         "mark": {"type": "text", "text": "T", "align": "left", "baseline": "alphabetic", "fontSize": 42, "fill": "black", "dx": -232, "dy": 159},
         "encoding": {"x": {"datum": 62.2, "type": "quantitative"}, "y": {"datum": 0, "type": "quantitative"}}}
      ]
    }
  ],
  "columns": 2,
  "spacing": 0,
  "bounds": "flush",
  "align": "each",
  "resolve": {"scale": {"color": "independent"}}
}
